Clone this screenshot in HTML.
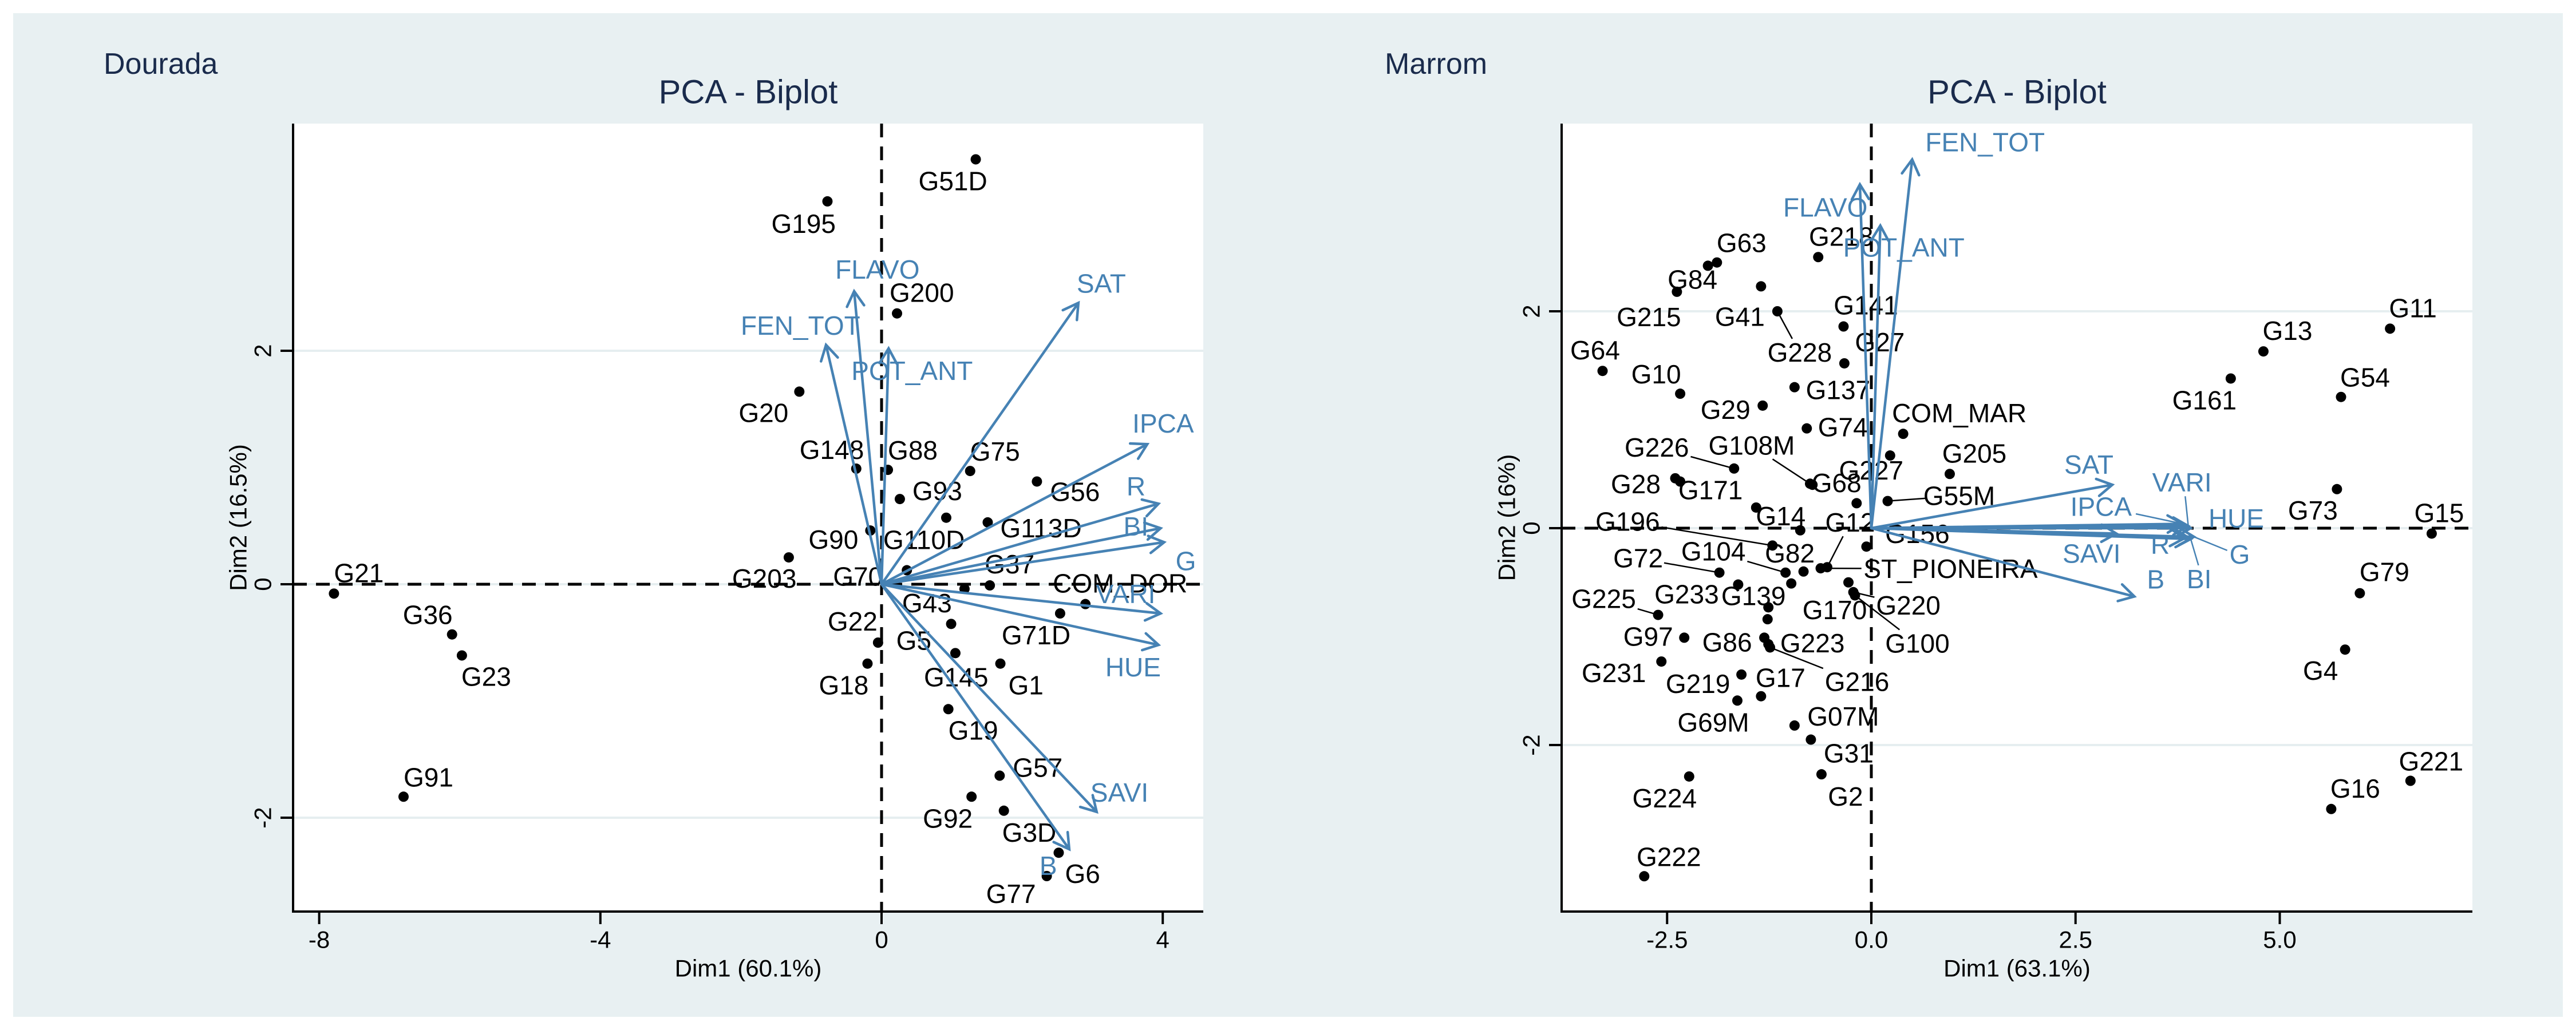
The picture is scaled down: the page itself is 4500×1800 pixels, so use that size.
<!DOCTYPE html>
<html><head><meta charset="utf-8"><title>PCA Biplots</title>
<style>
html,body{margin:0;padding:0;background:#fff;}
svg{display:block;font-family:"Liberation Sans",Arial,sans-serif;}
</style></head>
<body>
<svg id="chart" width="4500" height="1800" viewBox="0 0 4500 1800" xmlns="http://www.w3.org/2000/svg">
<rect x="0" y="0" width="4500" height="1800" fill="#ffffff"/>
<rect x="23" y="23" width="4454" height="1754" fill="#e8f0f2"/>
<g id="panelL"></g>
<g id="panelR"></g>
</svg>
<script>
// ---------- Dourada data ----------
const dourNames = ["G51D","G195","G200","G20","G148","G88","G75","G56","G93","G90","G110D","G113D","G203","G70","G37","G43","G22","G5","G71D","COM_DOR","G18","G145","G1","G19","G57","G92","G3D","G6","G77","G21","G36","G23","G91"];
const dourDim1 = [1.34,-0.77,0.22,-1.17,-0.36,0.09,1.26,2.21,0.26,-0.16,0.92,1.51,-1.32,0.36,1.54,1.18,-0.05,0.99,2.54,2.9,-0.2,1.05,1.69,0.95,1.68,1.28,1.74,2.52,2.35,-7.79,-6.11,-5.97,-6.8];
const dourDim2 = [3.64,3.28,2.32,1.65,0.99,0.98,0.97,0.88,0.73,0.46,0.57,0.53,0.23,0.12,-0.01,-0.04,-0.5,-0.34,-0.25,-0.17,-0.68,-0.59,-0.68,-1.07,-1.64,-1.82,-1.94,-2.3,-2.5,-0.08,-0.43,-0.61,-1.82];
const dourVarNames = ["FLAVO","FEN_TOT","POT_ANT","SAT","IPCA","R","BI","G","VARI","HUE","SAVI","B"];
const dourVarDim1 = [-0.39,-0.79,0.1,2.8,3.78,3.94,3.97,4.02,3.97,3.94,3.06,2.67];
const dourVarDim2 = [2.51,2.05,2.02,2.41,1.2,0.69,0.48,0.36,-0.25,-0.52,-1.95,-2.27];
const dourXTicks = [-8,-4,0,4];
const dourXTickLabels = ["-8","-4","0","4"];
const dourYTicks = [-2,0,2];
const dourYTickLabels = ["-2","0","2"];
const dourLabelOffsets = [[-100,38],[-98,39],[-13,-36],[-106,37],[-99,-33],[0,-34],[0,-34],[23,18],[22,-14],[-108,16],[-110,39],[22,10],[-99,37],[-129,11],[-9,-37],[-109,25],[-88,-37],[-96,29],[-102,38],[-57,-36],[-85,38],[-55,42],[14,38],[0,37],[23,-14],[-85,38],[-3,38],[11,37],[-106,31],[0,-36],[-86,-34],[-1,37],[0,-34]];
const dourVarLabelOffsets = [[-33,-38],[-149,-34],[-65,39],[-3,-34],[-26,-36],[-56,-30],[-65,-3],[20,33],[-113,-34],[-93,39],[-11,-34],[-52,29]];

// ---------- Marrom data ----------
const marNames = ["G63","G84","G215","G41","G228","G218","G141","G27","G137","G29","G64","G10","G74","COM_MAR","G227","G205","G226","G108M","G68","G28","G171","G14","G55M","G156","G196","G12","G82","G104","ST_PIONEIRA","G72","G233","G139","G170","G220","G100","G225","G97","G86","G223","G216","G231","G219","G17","G69M","G07M","G31","G2","G224","G222","G161","G13","G11","G54","G73","G15","G79","G4","G221","G16","","","",""];
const marDim1 = [-1.89,-2.0,-2.38,-1.35,-1.15,-0.65,-0.34,-0.33,-0.94,-1.33,-3.29,-2.34,-0.79,0.39,0.23,0.96,-1.68,-0.75,-0.72,-2.4,-2.34,-1.41,0.2,-0.06,-1.21,-0.54,-0.83,-1.05,-0.62,-1.86,-1.63,-1.26,-0.28,-0.22,-0.2,-2.61,-2.29,-1.31,-1.26,-1.24,-2.57,-1.59,-1.35,-1.64,-0.94,-0.74,-0.61,-2.23,-2.78,4.4,4.8,6.35,5.75,5.7,6.86,5.98,5.8,6.6,5.63,-0.87,-0.18,-0.98,-1.27];
const marDim2 = [2.45,2.42,2.18,2.23,2.0,2.5,1.86,1.52,1.3,1.13,1.45,1.24,0.92,0.87,0.67,0.5,0.55,0.41,0.4,0.46,0.43,0.19,0.25,-0.17,-0.16,-0.36,-0.4,-0.41,-0.37,-0.41,-0.52,-0.73,-0.5,-0.59,-0.62,-0.8,-1.01,-1.01,-1.07,-1.1,-1.23,-1.35,-1.55,-1.59,-1.82,-1.95,-2.27,-2.29,-3.21,1.38,1.63,1.84,1.21,0.36,-0.05,-0.6,-1.12,-2.33,-2.59,-0.02,0.23,-0.51,-0.84];
const marVarNames = ["FEN_TOT","FLAVO","POT_ANT","SAT","SAVI","VARI","IPCA","HUE","R","BI","G","B"];
const marVarDim1 = [0.5,-0.14,0.11,2.95,3.0,3.88,3.81,3.91,3.84,3.91,3.95,3.22];
const marVarDim2 = [3.4,3.17,2.79,0.4,-0.05,0.02,0.04,0.0,-0.09,-0.1,-0.08,-0.63];
const marXTicks = [-2.5,0,2.5,5];
const marXTickLabels = ["-2.5","0.0","2.5","5.0"];
const marYTicks = [-2,0,2];
const marYTickLabels = ["-2","0","2"];
const marLabelOffsets = [[43,-34],[-27,24],[-49,44],[-37,53],[39,72],[40,-36],[39,-37],[62,-37],[76,5],[-65,7],[-13,-36],[-42,-34],[63,-2],[98,-36],[-33,26],[43,-36],[-135,-37],[-102,-67],[42,-3],[-69,10],[53,15],[43,15],[125,-9],[89,-22],[-253,-42],[40,-78],[-24,-32],[-126,-37],[227,1],[-142,-25],[-90,17],[-26,-20],[-24,48],[96,23],[109,84],[-95,-28],[-63,-2],[-65,8],[77,-2],[152,60],[-83,20],[-76,16],[34,-32],[-42,38],[85,-16],[66,24],[42,39],[-43,38],[43,-34],[-46,38],[42,-36],[40,-36],[42,-34],[-42,37],[13,-36],[43,-37],[-43,37],[36,-34],[42,-36],[0,0],[0,0],[0,0],[0,0]];
const marLeaders = ["G228","G226","G108M","G55M","G196","G12","G104","ST_PIONEIRA","G72","G220","G100","G225","G216"];
const marVarLabelOffsets = [[23,-30],[-134,40],[-65,38],[-84,-35],[-94,35],[-63,-76],[-196,-30],[31,-17],[-60,12],[-7,70],[62,31],[22,-30]];
const marVarLeaders = ["VARI","IPCA","BI","G"];

const NS = "http://www.w3.org/2000/svg";
function mk(parent, tag, attrs, text){
  const e = document.createElementNS(NS, tag);
  for (const k in attrs) e.setAttribute(k, attrs[k]);
  if (text !== undefined) e.textContent = text;
  parent.appendChild(e);
  return e;
}
function slug(s){ return s.toLowerCase().replace(/[^a-z0-9]+/g,'-').replace(/^-|-$/g,''); }
function textW(s, fs){ return s.length * fs * 0.6; }
function leaderEnd(px,py,cx,cy,hw,hh){
  const dx = cx-px, dy = cy-py;
  let t = 1e9;
  if (Math.abs(dx) > 0.01) t = Math.min(t, hw/Math.abs(dx));
  if (Math.abs(dy) > 0.01) t = Math.min(t, hh/Math.abs(dy));
  if (t > 1) t = 1;
  return [cx - dx*t, cy - dy*t];
}

function drawPanel(g, cfg){
  const xs = v => cfg.x0 + v*cfg.xu;
  const ys = v => cfg.y0 - v*cfg.yu;
  const navy = "#1a2b4c", blue = "#4682b4";
  let e;
  e = mk(g,'text',{x:cfg.tagX,y:112,'font-size':52,fill:navy,'dominant-baseline':'central'},cfg.tag);
  
  
  e = mk(g,'text',{x:(cfg.L+cfg.R)/2,y:161,'font-size':58,fill:navy,'text-anchor':'middle','dominant-baseline':'central'},"PCA - Biplot");
  
  
  e = mk(g,'rect',{x:cfg.L,y:cfg.T,width:cfg.R-cfg.L,height:cfg.B-cfg.T,fill:'#ffffff'});
  
  
  cfg.yTicks.forEach((v,i)=>{
    e = mk(g,'line',{x1:cfg.L,x2:cfg.R,y1:ys(v),y2:ys(v),stroke:'#e6eef0','stroke-width':4});
    
    
  });
  e = mk(g,'line',{x1:cfg.L,x2:cfg.R,y1:ys(0),y2:ys(0),stroke:'#000','stroke-width':5,'stroke-dasharray':'24,16'});
  
  
  e = mk(g,'line',{x1:xs(0),x2:xs(0),y1:cfg.T,y2:cfg.B,stroke:'#000','stroke-width':5,'stroke-dasharray':'24,16'});
  
  
  e = mk(g,'path',{d:`M${cfg.L},${cfg.T} V${cfg.B} H${cfg.R}`,fill:'none',stroke:'#000','stroke-width':4});
  
  
  cfg.xTicks.forEach((v,i)=>{
    e = mk(g,'line',{x1:xs(v),x2:xs(v),y1:cfg.B,y2:cfg.B+22,stroke:'#000','stroke-width':4});
    
    
    e = mk(g,'text',{x:xs(v),y:1642,'font-size':42,'text-anchor':'middle','dominant-baseline':'central',fill:'#000'},cfg.xTickLabels[i]);
    
    
  });
  cfg.yTicks.forEach((v,i)=>{
    e = mk(g,'line',{x1:cfg.L-22,x2:cfg.L,y1:ys(v),y2:ys(v),stroke:'#000','stroke-width':4});
    
    
    e = mk(g,'text',{x:cfg.L-53,y:ys(v),'font-size':42,'text-anchor':'middle','dominant-baseline':'central',fill:'#000',transform:`rotate(-90 ${cfg.L-53} ${ys(v)})`},cfg.yTickLabels[i]);
    
    
  });
  e = mk(g,'text',{x:(cfg.L+cfg.R)/2,y:1692,'font-size':42,'text-anchor':'middle','dominant-baseline':'central',fill:'#000'},cfg.xTitle);
  
  
  const ymid = (cfg.T+cfg.B)/2;
  e = mk(g,'text',{x:cfg.L-96,y:ymid,'font-size':42,'text-anchor':'middle','dominant-baseline':'central',fill:'#000',transform:`rotate(-90 ${cfg.L-96} ${ymid})`},cfg.yTitle);
  
  

  cfg.names.forEach((n,i)=>{
    const px = xs(cfg.d1[i]), py = ys(cfg.d2[i]);
    e = mk(g,'circle',{cx:px,cy:py,r:9,fill:'#000'});
    
    
    if (!n) return;
    const off = cfg.lblOff[i], fs = 46, w = textW(n,fs);
    let cx, lx, anchor;
    if (cfg.anchor === 'start'){ lx = px+off[0]; cx = lx + w/2; anchor='start'; }
    else { cx = px+off[0]; lx = cx; anchor='middle'; }
    const cy = py+off[1];
    if (cfg.leaders.indexOf(n) >= 0){
      const end = leaderEnd(px,py,cx,cy,w/2+4,24);
      e = mk(g,'line',{x1:px,y1:py,x2:end[0],y2:end[1],stroke:'#000','stroke-width':2.5});
      
      
    }
    e = mk(g,'text',{x:lx,y:cy,'font-size':fs,'text-anchor':anchor,'dominant-baseline':'central',fill:'#000'},n);
    
    
  });
  const ox = xs(0), oy = ys(0);
  cfg.vNames.forEach((n,i)=>{
    const tx = xs(cfg.v1[i]), ty = ys(cfg.v2[i]);
    const ang = Math.atan2(ty-oy, tx-ox), L = 30, a = Math.PI/6;
    const h1x = tx - L*Math.cos(ang-a), h1y = ty - L*Math.sin(ang-a);
    const h2x = tx - L*Math.cos(ang+a), h2y = ty - L*Math.sin(ang+a);
    e = mk(g,'path',{d:`M${ox},${oy} L${tx},${ty} M${h1x},${h1y} L${tx},${ty} L${h2x},${h2y}`,fill:'none',stroke:blue,'stroke-width':4.5,'stroke-linecap':'round'});
    
    
  });
  cfg.vNames.forEach((n,i)=>{
    const tx = xs(cfg.v1[i]), ty = ys(cfg.v2[i]);
    const off = cfg.vOff[i], fs = 46, w = textW(n,fs);
    const lx = tx+off[0], cy = ty+off[1], cx = lx + w/2;
    if (cfg.vLeaders.indexOf(n) >= 0){
      const end = leaderEnd(tx,ty,cx,cy,w/2+4,24);
      e = mk(g,'line',{x1:tx,y1:ty,x2:end[0],y2:end[1],stroke:blue,'stroke-width':2.5});
      
      
    }
    e = mk(g,'text',{x:lx,y:cy,'font-size':fs,'dominant-baseline':'central',fill:blue},n);
    
    
  });
}

drawPanel(document.getElementById('panelL'),{
  tag:"Dourada", tagX:181, L:512, R:2102, T:216, B:1593,
  x0:1540, xu:122.8, y0:1021, yu:204,
  xTicks:dourXTicks, xTickLabels:dourXTickLabels, yTicks:dourYTicks, yTickLabels:dourYTickLabels,
  xTitle:"Dim1 (60.1%)", yTitle:"Dim2 (16.5%)",
  names:dourNames, d1:dourDim1, d2:dourDim2, lblOff:dourLabelOffsets, anchor:'start', leaders:[],
  vNames:dourVarNames, v1:dourVarDim1, v2:dourVarDim2, vOff:dourVarLabelOffsets, vLeaders:[]
});
drawPanel(document.getElementById('panelR'),{
  tag:"Marrom", tagX:2419, L:2728, R:4319, T:216, B:1593,
  x0:3269, xu:142.7, y0:923, yu:189.5,
  xTicks:marXTicks, xTickLabels:marXTickLabels, yTicks:marYTicks, yTickLabels:marYTickLabels,
  xTitle:"Dim1 (63.1%)", yTitle:"Dim2 (16%)",
  names:marNames, d1:marDim1, d2:marDim2, lblOff:marLabelOffsets, anchor:'middle', leaders:marLeaders,
  vNames:marVarNames, v1:marVarDim1, v2:marVarDim2, vOff:marVarLabelOffsets, vLeaders:marVarLeaders
});
</script>
</body></html>
